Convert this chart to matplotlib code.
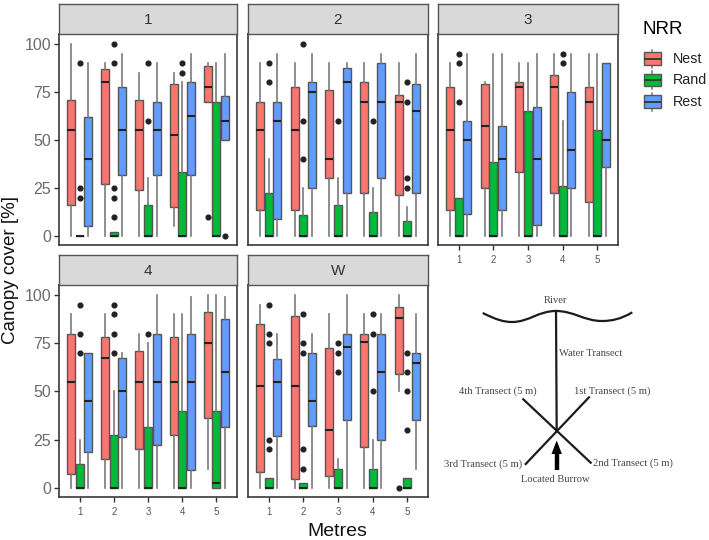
import matplotlib
matplotlib.use('Agg')
import matplotlib.pyplot as plt
from matplotlib.patches import PathPatch, Rectangle, Polygon
from matplotlib.path import Path

plt.rcParams['font.family'] = ['Liberation Sans', 'DejaVu Sans']

W, H = 709, 540

METRES = [1, 2, 3, 4, 5]
Y_TICKS = [0, 25, 50, 75, 100]
GROUPS = ['Nest', 'Rand', 'Rest']
COLORS = ['#F8766D', '#00BA38', '#619CFF']

# each box: whisker low, q1, median, q3, whisker high
P1_NEST = [(0, 16, 55, 71, 100), (0, 27, 80, 87, 90), (0, 24, 55, 71, 85), (5, 15, 52.5, 79, 85), (70, 70, 77.5, 88.5, 90)]
P1_RAND = [(0, 0, 0, 0, 0), (0, 0, 0, 2, 2), (0, 0, 0, 16, 30), (0, 0, 0, 33.5, 80), (0, 0, 0, 70, 90)]
P1_REST = [(0, 5, 40, 62, 90), (0, 32, 55, 77.5, 95), (0, 32, 55, 70, 90), (0, 32, 62.5, 80, 95), (50, 50, 60, 73, 95)]
P1_NEST_OUT = [[], [], [], [], [10]]
P1_RAND_OUT = [[90, 25, 20], [100, 90, 25, 20, 10], [90, 60], [90, 85], []]
P1_REST_OUT = [[], [], [], [], [0]]

P2_NEST = [(0, 13.5, 55, 70, 90), (0, 13.5, 55, 77.5, 90), (0, 30, 40, 76, 90), (0, 22.5, 70, 80, 90), (0, 21.5, 70, 73.5, 90)]
P2_RAND = [(0, 0, 0, 22.5, 40), (0, 0, 0, 11, 25), (0, 0, 0, 16, 30), (0, 0, 0, 12.5, 25), (0, 0, 0, 8, 15)]
P2_REST = [(0, 8.7, 60, 70, 95), (0, 25, 75, 80, 95), (0, 22.5, 80, 87.5, 90), (0, 30, 70, 90, 95), (0, 22.5, 65, 79, 95)]
P2_NEST_OUT = [[], [], [], [], []]
P2_RAND_OUT = [[90, 80], [100, 60, 40], [60], [60], [80, 70, 30, 25]]
P2_REST_OUT = [[], [], [], [], []]

P3_NEST = [(0, 13.5, 55, 77.5, 90), (0, 25, 57.5, 79, 80), (0, 33.5, 77.5, 80, 90), (0, 22.5, 77.5, 84, 95), (0, 17.5, 70, 77.5, 95)]
P3_RAND = [(0, 0, 0, 20, 20), (0, 0, 0, 38.5, 95), (0, 0, 0, 65, 90), (0, 0, 0, 26, 60), (0, 0, 0, 55, 95)]
P3_REST = [(0, 11.5, 50, 60, 95), (0, 13.5, 40, 57.5, 95), (0, 5.5, 40, 67, 95), (0, 25, 45, 75, 95), (0, 36, 50, 90, 90)]
P3_NEST_OUT = [[], [], [], [], []]
P3_RAND_OUT = [[95, 90, 70], [], [], [95, 90], []]
P3_REST_OUT = [[], [], [], [], []]

P4_NEST = [(0, 7, 55, 80, 90), (0, 15, 67.5, 78.5, 90), (0, 20, 55, 71, 80), (0, 27.5, 55, 78.5, 90), (10, 36, 75, 91, 100)]
P4_RAND = [(0, 0, 0, 12.5, 25), (0, 0, 0, 27.5, 50), (0, 0, 0, 31.5, 75), (0, 0, 0, 40, 90), (0, 0, 2.5, 40, 100)]
P4_REST = [(0, 18.5, 45, 70, 70), (0, 26.5, 50, 67.5, 70), (0, 22.5, 55, 80, 100), (0, 9.5, 55, 80, 99), (0, 31.5, 60, 87.5, 99)]
P4_NEST_OUT = [[], [], [], [], []]
P4_RAND_OUT = [[95, 80, 70], [95, 90, 80, 70], [80], [], []]
P4_REST_OUT = [[], [], [], [], []]

PW_NEST = [(0, 8.5, 53, 85, 95), (0, 4.5, 53, 89, 100), (0, 6, 30, 72.5, 90), (0, 21, 75.5, 80, 90), (50, 59, 88, 94, 100)]
PW_RAND = [(0, 0, 0, 5, 5), (0, 0, 0, 2.5, 2.5), (0, 0, 0, 10, 15), (0, 0, 0, 10, 25), (0, 0, 0, 5, 5)]
PW_REST = [(0, 27, 55, 67, 80), (0, 32, 45, 70, 80), (0, 35, 73, 80, 100), (0, 25, 60, 80, 90), (10, 35, 65, 70, 90)]
PW_NEST_OUT = [[], [], [], [], [0]]
PW_RAND_OUT = [[95, 80, 75, 25, 20], [90, 75, 70, 20, 10], [75, 70, 60], [90, 80, 50], [70, 60, 50, 30]]
PW_REST_OUT = [[], [], [], [], []]


def px_axes(fig, left, top, right, bottom, **kw):
    # axes placed by picture pixels, y counted from the top
    return fig.add_axes([left / W, 1 - bottom / H, (right - left) / W, (bottom - top) / H], **kw)


def draw_group(ax, boxes, outliers, pos, color):
    stats = []
    for (lo, q1, med, q3, hi), out in zip(boxes, outliers):
        stats.append(dict(whislo=lo, q1=q1, med=med, q3=q3, whishi=hi, fliers=out))
    ax.bxp(stats, positions=pos, widths=0.235, patch_artist=True, showcaps=False, manage_ticks=False,
           boxprops=dict(facecolor=color, edgecolor='#555555', linewidth=1.0),
           medianprops=dict(color='#222222', linewidth=1.5, solid_capstyle='butt'),
           whiskerprops=dict(color='#7a7a7a', linewidth=1.2),
           flierprops=dict(marker='o', markerfacecolor='#222222', markeredgecolor='#222222', markersize=3.4))


def panel(fig, name, left, top, right, bottom, strip_top, data, show_y, show_x):
    ax = px_axes(fig, left, top, right, bottom)
    for k, (boxes, out) in enumerate(data):
        draw_group(ax, boxes, out, [m + (k - 1) * 0.25 for m in METRES], COLORS[k])
    ax.set_xlim(0.4, 5.6)
    ax.set_ylim(-4.7, 105.2)
    ax.set_xticks(METRES if show_x else [])
    ax.set_xticklabels(METRES if show_x else [])
    ax.set_yticks(Y_TICKS if show_y else [])
    ax.tick_params(axis='x', labelsize=7, colors='#555555', length=3.5, width=1, color='#333333', pad=4)
    ax.tick_params(axis='y', labelsize=11.5, labelcolor='#6b6b6b', length=3.5, width=1, color='#333333', pad=2)
    for spine in ax.spines.values():
        spine.set_color('#3a3a3a')
        spine.set_linewidth(1.2)

    strip = px_axes(fig, left, strip_top, right, top, facecolor='#D9D9D9')
    strip.set_xticks([])
    strip.set_yticks([])
    for spine in strip.spines.values():
        spine.set_color('#555555')
        spine.set_linewidth(1.0)
    strip.text(0.5, 0.47, name, ha='center', va='center', fontsize=11, color='#333333', transform=strip.transAxes)
    return ax


def schematic(fig):
    ax = fig.add_axes([0, 0, 1, 1], facecolor='none')
    ax.set_xlim(0, W)
    ax.set_ylim(H, 0)
    ax.axis('off')
    ink = '#1c1c1c'

    verts = [(482.7, 313), (497, 320), (504, 322), (512, 322),
             (529, 322), (538, 311), (556, 311),
             (574, 311), (584, 321), (602, 321),
             (612, 321), (621, 319), (632.3, 312.3)]
    codes = [Path.MOVETO] + [Path.CURVE4] * 12
    ax.add_patch(PathPatch(Path(verts, codes), fill=False, edgecolor=ink, linewidth=1.6))

    ax.plot([556, 556.7], [311, 431], color=ink, lw=1.6)
    ax.plot([523.3, 590.7], [399.3, 462.7], color=ink, lw=1.6)
    ax.plot([589, 525.7], [397.3, 464], color=ink, lw=1.6)
    ax.plot([556.7, 556.7], [450, 469.5], color='black', lw=3.2, solid_capstyle='butt')
    ax.add_patch(Polygon([(556.7, 440.5), (551.5, 454), (561.9, 454)], closed=True, facecolor='black', edgecolor='none'))

    labels = [('River', 555.3, 300.7), ('4th Transect (5 m)', 498, 391.3), ('1st Transect (5 m)', 612.3, 390.7),
              ('3rd Transect (5 m)', 483.3, 464), ('2nd Transect (5 m)', 633, 463.3), ('Located Burrow', 555.7, 480),
              ('Water Transect', 590.5, 353.3)]
    for txt, x, y in labels:
        ax.text(x, y, txt, ha='center', va='center', fontsize=7.6, color='#444444', family='Liberation Serif')


def legend(fig):
    ax = fig.add_axes([0, 0, 1, 1], facecolor='none')
    ax.set_xlim(0, W)
    ax.set_ylim(H, 0)
    ax.axis('off')
    ax.text(642, 30, 'NRR', fontsize=13.5, ha='left', va='center', color='black')
    rows = [58.7, 80, 101.7]
    for name, color, y in zip(GROUPS, COLORS, rows):
        ax.plot([652, 652], [y - 9, y + 9], color='#7a7a7a', lw=1.1, zorder=1)
        ax.add_patch(Rectangle((643.5, y - 6.3), 17, 12.6, facecolor=color, edgecolor='#555555', lw=1.0, zorder=2))
        ax.plot([643.5, 660.5], [y, y], color='#333333', lw=1.3, zorder=3, solid_capstyle='butt')
        ax.text(672.5, y, name, fontsize=10.3, ha='left', va='center', color='#222222')


fig = plt.figure(figsize=(W / 100, H / 100), dpi=100, facecolor='w')

panel(fig, '1', 59, 34, 237, 245, 4, [(P1_NEST, P1_NEST_OUT), (P1_RAND, P1_RAND_OUT), (P1_REST, P1_REST_OUT)], True, False)
panel(fig, '2', 248, 34, 428, 245, 4, [(P2_NEST, P2_NEST_OUT), (P2_RAND, P2_RAND_OUT), (P2_REST, P2_REST_OUT)], False, False)
panel(fig, '3', 438, 34, 618, 245, 4, [(P3_NEST, P3_NEST_OUT), (P3_RAND, P3_RAND_OUT), (P3_REST, P3_REST_OUT)], False, True)
panel(fig, '4', 59, 285, 237, 497, 255, [(P4_NEST, P4_NEST_OUT), (P4_RAND, P4_RAND_OUT), (P4_REST, P4_REST_OUT)], True, True)
panel(fig, 'W', 248, 285, 428, 497, 255, [(PW_NEST, PW_NEST_OUT), (PW_RAND, PW_RAND_OUT), (PW_REST, PW_REST_OUT)], False, True)

fig.text(11 / W, 1 - 270 / H, 'Canopy cover [%]', rotation=90, ha='center', va='center', fontsize=13.5, color='#111111')
fig.text(337 / W, 1 - 531 / H, 'Metres', ha='center', va='center', fontsize=14, color='#111111')

schematic(fig)
legend(fig)

fig.savefig('out.png', dpi=100)
